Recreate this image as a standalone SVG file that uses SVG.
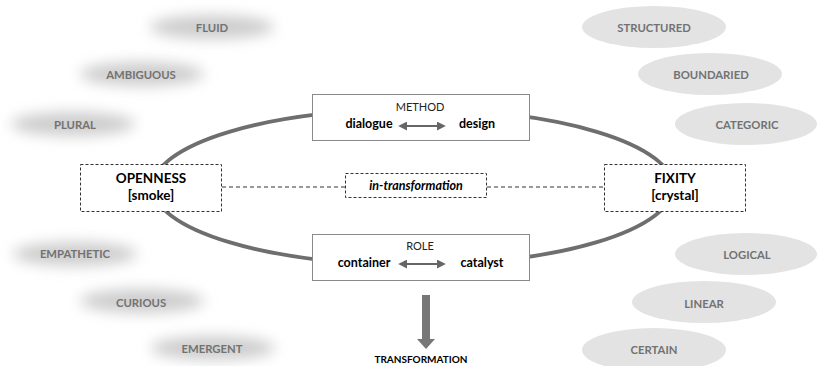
<svg xmlns="http://www.w3.org/2000/svg" width="817" height="366" viewBox="0 0 817 366">
  <defs>
    <filter id="soft" x="-50%" y="-100%" width="200%" height="300%">
      <feGaussianBlur stdDeviation="7"/>
    </filter>
    <marker id="tip" viewBox="0 0 10 10" refX="8" refY="5" markerWidth="4.5" markerHeight="4.5" orient="auto-start-reverse">
      <path d="M0,0 L10,5 L0,10 z" fill="#666"/>
    </marker>
  </defs>
  <style>
    text { font-family: Lato, "Open Sans", "Liberation Sans", sans-serif; text-anchor: middle; }
    .trait { font-size: 11.3px; font-weight: bold; fill: #727272; }
    .haze { fill: #cdcdcd; filter: url(#soft); }
    .solid { fill: #e3e3e3; }
    .box { fill: #fff; stroke: #8a8a8a; stroke-width: 1; }
    .dbox { fill: #fff; stroke: #333; stroke-width: 1; stroke-dasharray: 3 2; }
    .pole { font-size: 13.5px; font-weight: bold; fill: #000; }
    .cap { font-size: 11px; fill: #222; }
    .term { font-size: 12.5px; font-weight: bold; fill: #000; }
    .link { stroke: #666; stroke-width: 2; fill: none; marker-start: url(#tip); marker-end: url(#tip); }
    .dash { stroke: #333; stroke-width: 1; stroke-dasharray: 4 3; fill: none; }
  </style>

  <rect width="817" height="366" fill="#fff"/>

  <!-- soft traits (openness side) -->
  <g id="fluid"><ellipse class="haze" cx="212" cy="27" rx="62" ry="12"/><text class="trait" x="212" y="32">FLUID</text></g>
  <g id="ambiguous"><ellipse class="haze" cx="142" cy="74" rx="62" ry="12"/><text class="trait" x="141" y="79">AMBIGUOUS</text></g>
  <g id="plural"><ellipse class="haze" cx="73" cy="124" rx="62" ry="12"/><text class="trait" x="75" y="129">PLURAL</text></g>
  <g id="empathetic"><ellipse class="haze" cx="75" cy="254" rx="62" ry="12"/><text class="trait" x="75" y="258">EMPATHETIC</text></g>
  <g id="curious"><ellipse class="haze" cx="142" cy="301" rx="62" ry="12"/><text class="trait" x="141" y="307">CURIOUS</text></g>
  <g id="emergent"><ellipse class="haze" cx="213" cy="348" rx="62" ry="12"/><text class="trait" x="212" y="353">EMERGENT</text></g>

  <!-- solid traits (fixity side) -->
  <g id="structured"><ellipse class="solid" cx="654" cy="27" rx="72" ry="21"/><text class="trait" x="654" y="32">STRUCTURED</text></g>
  <g id="boundaried"><ellipse class="solid" cx="710" cy="74" rx="72" ry="21"/><text class="trait" x="711" y="79">BOUNDARIED</text></g>
  <g id="categoric"><ellipse class="solid" cx="746" cy="124" rx="71" ry="21"/><text class="trait" x="747" y="129">CATEGORIC</text></g>
  <g id="logical"><ellipse class="solid" cx="746" cy="254" rx="71" ry="21"/><text class="trait" x="747" y="259">LOGICAL</text></g>
  <g id="linear"><ellipse class="solid" cx="704" cy="302" rx="72" ry="21"/><text class="trait" x="704" y="308">LINEAR</text></g>
  <g id="certain"><ellipse class="solid" cx="654" cy="350" rx="72" ry="22"/><text class="trait" x="654" y="354">CERTAIN</text></g>

  <!-- connectors -->
  <g id="connectors">
    <ellipse cx="413" cy="187" rx="260" ry="78" fill="none" stroke="#6e6e6e" stroke-width="3.8"/>
    <line class="dash" x1="222" y1="187" x2="345" y2="187"/>
    <line class="dash" x1="487" y1="187" x2="604" y2="187"/>
    <path d="M422,295 H430 V339 H435 L426,349 L417,339 H422 Z" fill="#777"/>
  </g>

  <g id="method">
    <rect class="box" x="312.5" y="94.5" width="217" height="46"/>
    <text class="cap" x="420" y="111">METHOD</text>
    <text class="term" x="369" y="128">dialogue</text>
    <text class="term" x="477" y="128">design</text>
    <line class="link" x1="400" y1="126" x2="444" y2="126"/>
  </g>

  <g id="role">
    <rect class="box" x="312.5" y="234.5" width="217" height="46"/>
    <text class="cap" x="420" y="250">ROLE</text>
    <text class="term" x="364" y="267">container</text>
    <text class="term" x="482" y="267">catalyst</text>
    <line class="link" x1="400" y1="264" x2="444" y2="264"/>
  </g>

  <g id="openness">
    <rect class="dbox" x="80.5" y="164.5" width="141" height="47"/>
    <text class="pole" x="151" y="183">OPENNESS</text>
    <text class="pole" x="151" y="200">[smoke]</text>
  </g>

  <g id="fixity">
    <rect class="dbox" x="604.5" y="164.5" width="141" height="47"/>
    <text class="pole" x="675" y="183">FIXITY</text>
    <text class="pole" x="675" y="200">[crystal]</text>
  </g>

  <g id="in-transformation">
    <rect class="dbox" x="345.5" y="173.5" width="141" height="24"/>
    <text class="term" x="416" y="190" font-style="italic">in-transformation</text>
  </g>

  <g id="transformation">
    <text x="421" y="363" font-size="10" font-weight="bold" fill="#000">TRANSFORMATION</text>
  </g>
</svg>
